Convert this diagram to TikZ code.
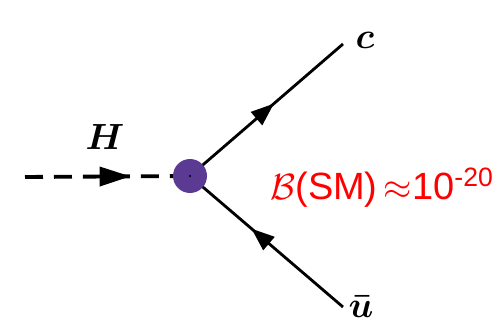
\documentclass[tikz,border=0pt]{standalone}
\usepackage{fontspec}
\usepackage{tikz}
\usetikzlibrary{arrows.meta,decorations.markings}
\newfontfamily\labelfont{Liberation Sans}
\definecolor{vertexpurple}{HTML}{5A3A92}

\begin{document}
\begin{tikzpicture}[
  x=0.02cm,y=0.02cm,
  scalar/.style={line width=2.2pt,dash pattern=on 0.36cm off 0.22cm,
    postaction={decorate,decoration={markings,
      mark=at position 0.64 with {\arrow{Triangle[length=0.62cm,width=0.38cm]}}}}},
  fermion/.style={line width=1.6pt,
    postaction={decorate,decoration={markings,
      mark=at position #1 with {\arrow{Triangle[length=0.46cm,width=0.34cm]}}}}},
  lbl/.style={font=\fontsize{22}{26}\selectfont\boldmath}
]
\useasboundingbox (0,0) rectangle (499,324);
\coordinate (h) at (25,147);
\coordinate (c) at (343,280);
\coordinate (u) at (343,17);
\coordinate (v) at (190,148);
\draw[scalar] (h) -- (v);
\draw[fermion=0.55] (v) -- (c);
\draw[fermion=0.6] (u) -- (v);
\node[circle,fill=vertexpurple,minimum size=0.68cm,inner sep=0pt] (vtx) at (v) {};
\fill (vtx.center) circle (0.6pt);
\node[lbl] (hlab) at (105,187) {$H$};
\node[lbl] (clab) at (365,284) {$c$};
\node[lbl,inner sep=1pt] (ulab) at (361,17) {$\bar{u}$};
\node[anchor=base west,inner sep=0pt,text=red,font=\labelfont\fontsize{21.6}{26}\selectfont] (br) at (270,124)
  {$\mathcal{B}$(SM)\,$\approx$10\textsuperscript{-20}};
\end{tikzpicture}
\end{document}
